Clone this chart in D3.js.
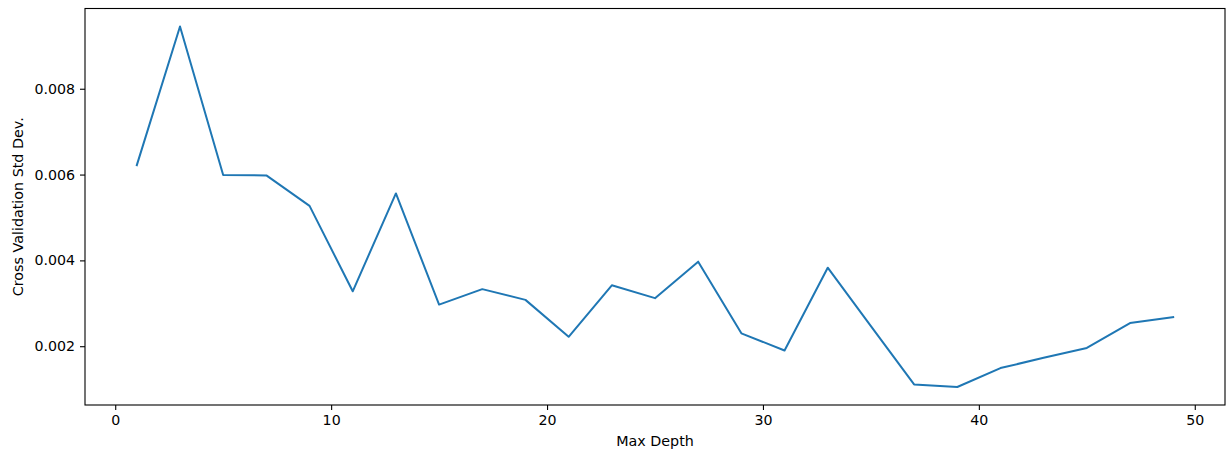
<!DOCTYPE html>
<html>
<head>
<meta charset="utf-8">
<script src="https://cdn.jsdelivr.net/npm/d3@7"></script>
<style>
  html, body { margin: 0; padding: 0; background: #fff; }
  svg { display: block; }
  .tick text { font-family: "DejaVu Sans", sans-serif; font-size: 14.2px; fill: #000; }
  .label { font-family: "DejaVu Sans", sans-serif; font-size: 14.3px; fill: #000; }
</style>
</head>
<body>
<svg id="chart" width="1231" height="452"></svg>
<script>
// Max tree depth tried in cross validation
const maxDepth = [1, 3, 5, 7, 9, 11, 13, 15, 17, 19, 21, 23, 25, 27, 29, 31, 33, 35, 37, 39, 41, 43, 45, 47, 49];
// Std dev of the cross-validation score at each depth
const cvStd = [0.00622, 0.00945, 0.00599, 0.00598, 0.00527, 0.00328, 0.00556, 0.00297, 0.00333, 0.00308,
               0.00222, 0.00342, 0.00312, 0.00397, 0.00230, 0.00190, 0.00383, 0.00247, 0.00111, 0.00105,
               0.00149, 0.00173, 0.00196, 0.00254, 0.00268];
const xTicks = [0, 10, 20, 30, 40, 50];
const yTicks = [0.002, 0.004, 0.006, 0.008];

const svg = d3.select("#chart");
const plotLeft = 85, plotRight = 1225, plotTop = 8.5, plotBottom = 405;

// 5% padding around the data range, like the plotting default
const xMin = d3.min(maxDepth), xMax = d3.max(maxDepth);
const xPad = (xMax - xMin) * 0.05;
const yMin = d3.min(cvStd), yMax = d3.max(cvStd);
const yPad = (yMax - yMin) * 0.05;

const x = d3.scaleLinear().domain([xMin - xPad, xMax + xPad]).range([plotLeft, plotRight]);
const y = d3.scaleLinear().domain([yMin - yPad, yMax + yPad]).range([plotBottom, plotTop]);

// axes
const xAxis = svg.append("g")
  .attr("transform", `translate(0,${plotBottom})`)
  .call(d3.axisBottom(x).tickValues(xTicks).tickFormat(d3.format("d")).tickSize(5).tickPadding(5).tickSizeOuter(0));
const yAxis = svg.append("g")
  .attr("transform", `translate(${plotLeft},0)`)
  .call(d3.axisLeft(y).tickValues(yTicks).tickFormat(d3.format(".3f")).tickSize(5).tickPadding(5).tickSizeOuter(0));
[xAxis, yAxis].forEach(g => {
  g.select(".domain").remove();
  g.selectAll(".tick line").attr("stroke", "#000").attr("stroke-width", 1.1);
});

// data line
const line = d3.line().x((d, i) => x(maxDepth[i])).y(d => y(d));
svg.append("path")
  .datum(cvStd)
  .attr("fill", "none")
  .attr("stroke", "#1f77b4")
  .attr("stroke-width", 2)
  .attr("stroke-linejoin", "round")
  .attr("stroke-linecap", "square")
  .attr("d", line);

// frame
svg.append("rect")
  .attr("x", plotLeft).attr("y", plotTop)
  .attr("width", plotRight - plotLeft).attr("height", plotBottom - plotTop)
  .attr("fill", "none").attr("stroke", "#000").attr("stroke-width", 1.1);

// axis titles
svg.append("text").attr("class", "label")
  .attr("x", (plotLeft + plotRight) / 2).attr("y", 446)
  .attr("text-anchor", "middle")
  .text("Max Depth");
svg.append("text").attr("class", "label")
  .attr("transform", `translate(22.5,${(plotTop + plotBottom) / 2}) rotate(-90)`)
  .attr("text-anchor", "middle")
  .text("Cross Validation Std Dev.");
</script>
</body>
</html>
